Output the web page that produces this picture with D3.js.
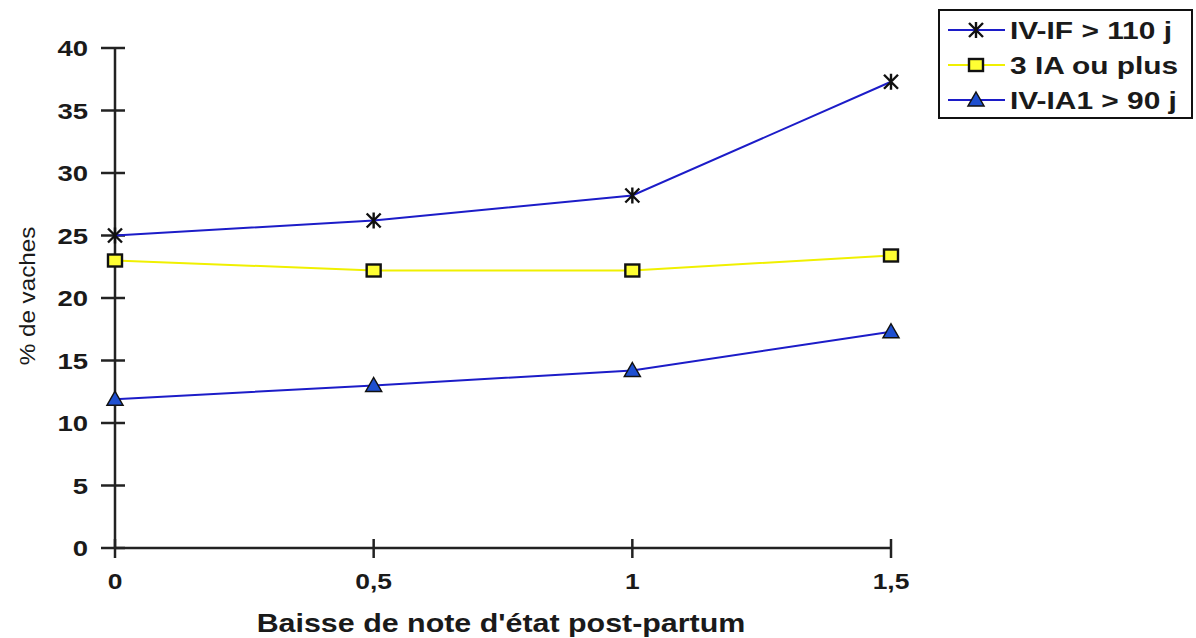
<!DOCTYPE html>
<html>
<head>
<meta charset="utf-8">
<script src="https://cdn.jsdelivr.net/npm/d3@7"></script>
<style>
  body { margin: 0; background: #fff; }
  text { font-family: "Liberation Sans", Arial, sans-serif; }
</style>
</head>
<body>
<svg id="chart" width="1196" height="638"></svg>
<script>
// data
const xValues = [0, 0.5, 1, 1.5]
const xTickLabels = ["0", "0,5", "1", "1,5"]
const yTicks = [0, 5, 10, 15, 20, 25, 30, 35, 40]
const ivIf = [25.0, 26.2, 28.2, 37.3]
const ia3 = [23.0, 22.2, 22.2, 23.4]
const ivIa1 = [11.9, 13.0, 14.2, 17.3]
const seriesNames = ["IV-IF > 110 j", "3 IA ou plus", "IV-IA1 > 90 j"]

const series = [
  { name: seriesNames[0], values: ivIf, line: "#1c1cc8", marker: "star" },
  { name: seriesNames[1], values: ia3, line: "#f0f000", marker: "square" },
  { name: seriesNames[2], values: ivIa1, line: "#1c1cc8", marker: "triangle" }
]

const svg = d3.select("#chart")

const x = d3.scaleLinear().domain([0, 1.5]).range([115, 891])
const y = d3.scaleLinear().domain([0, 40]).range([548, 48])

// wide-ish text like the scan (horizontal stretch)
function wideText(g, tx, ty, str, size, weight, anchor, sx) {
  return g.append("text")
    .attr("transform", `translate(${tx},${ty}) scale(${sx},1)`)
    .attr("text-anchor", anchor)
    .attr("font-size", size)
    .attr("font-weight", weight)
    .attr("fill", "#1a1a1a")
    .text(str)
}

// axes
const yAxis = svg.append("g")
yAxis.append("line")
  .attr("x1", x(0)).attr("x2", x(0))
  .attr("y1", y(0)).attr("y2", y(40))
  .attr("stroke", "#222").attr("stroke-width", 2.5)
yAxis.selectAll(".ytick").data(yTicks).join("line")
  .attr("x1", x(0) - 14).attr("x2", x(0) + 10)
  .attr("y1", d => y(d)).attr("y2", d => y(d))
  .attr("stroke", "#222").attr("stroke-width", 2.5)
yTicks.forEach(d => wideText(yAxis, 88, y(d) + 8, d, 22, "bold", "end", 1.25))

const xAxis = svg.append("g")
xAxis.append("line")
  .attr("x1", x(0)).attr("x2", x(1.5))
  .attr("y1", y(0)).attr("y2", y(0))
  .attr("stroke", "#222").attr("stroke-width", 2.5)
xAxis.selectAll(".xtick").data(xValues).join("line")
  .attr("x1", d => x(d)).attr("x2", d => x(d))
  .attr("y1", y(0) - 9).attr("y2", y(0) + 10)
  .attr("stroke", "#222").attr("stroke-width", 2.5)
xValues.forEach((d, i) => wideText(xAxis, x(d), 589, xTickLabels[i], 22, "bold", "middle", 1.2))

wideText(svg, 501, 632, "Baisse de note d'état post-partum", 26, "bold", "middle", 1.17)

svg.append("text")
  .attr("transform", "translate(35, 296) rotate(-90) scale(1.1,1)")
  .attr("text-anchor", "middle")
  .attr("font-size", 22)
  .attr("fill", "#1a1a1a")
  .text("% de vaches")

// markers
function drawMarker(g, type, cx, cy) {
  if (type === "star") {
    const r = 7
    g.append("path")
      .attr("d", `M${cx - r},${cy - r}L${cx + r},${cy + r}M${cx - r},${cy + r}L${cx + r},${cy - r}M${cx},${cy - r - 1}L${cx},${cy + r + 1}`)
      .attr("stroke", "#111").attr("stroke-width", 2.4)
  } else if (type === "square") {
    g.append("rect")
      .attr("x", cx - 7).attr("y", cy - 6).attr("width", 14).attr("height", 12)
      .attr("fill", "#ffff33").attr("stroke", "#111").attr("stroke-width", 2.4)
  } else {
    g.append("path")
      .attr("d", `M${cx},${cy - 8}L${cx + 8},${cy + 6}L${cx - 8},${cy + 6}Z`)
      .attr("fill", "#1e4fd0").attr("stroke", "#111").attr("stroke-width", 1.5)
  }
}

const line = d3.line()
  .x((d, i) => x(xValues[i]))
  .y(d => y(d))

series.forEach(s => {
  const g = svg.append("g")
  g.append("path")
    .attr("d", line(s.values))
    .attr("fill", "none")
    .attr("stroke", s.line)
    .attr("stroke-width", 2)
  s.values.forEach((v, i) => drawMarker(g, s.marker, x(xValues[i]), y(v)))
})

// legend
const legend = svg.append("g")
legend.append("rect")
  .attr("x", 939).attr("y", 10).attr("width", 253).attr("height", 108)
  .attr("fill", "#fff").attr("stroke", "#111").attr("stroke-width", 2)
series.forEach((s, i) => {
  const ly = 30 + i * 35
  legend.append("line")
    .attr("x1", 948).attr("x2", 1005).attr("y1", ly).attr("y2", ly)
    .attr("stroke", s.line).attr("stroke-width", 2)
  drawMarker(legend, s.marker, 976, ly)
  wideText(legend, 1010, ly + 9, s.name, 23, "bold", "start", 1.3)
})
</script>
</body>
</html>
